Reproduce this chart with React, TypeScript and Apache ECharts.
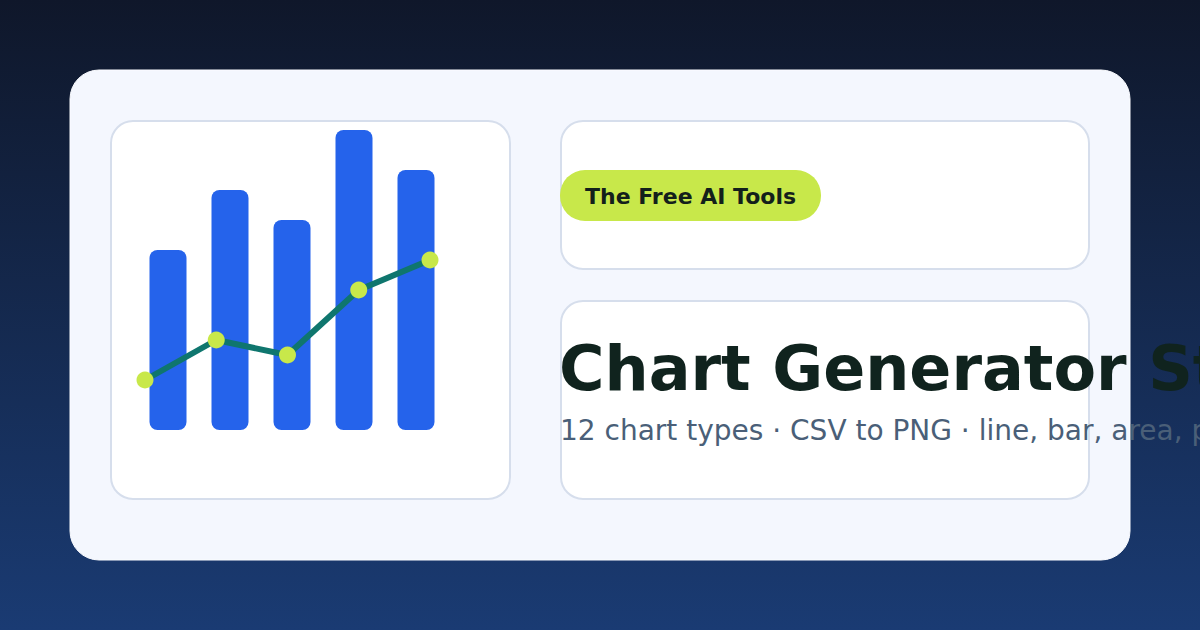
import * as echarts from 'echarts';
import { useEffect, useRef } from 'react';

const categories = ['A', 'B', 'C', 'D', 'E'];
const barValues = [180, 240, 210, 300, 260];
const lineValues = [50, 90, 75, 140, 170];

const badgeText = 'The Free AI Tools';
const titleText = 'Chart Generator Studio';
const subtitleText = '12 chart types · CSV to PNG · line, bar, area, pie, scatter and more';

const FONT = 'DejaVu Sans';

function App() {
  const chartRef = useRef<HTMLDivElement>(null);

  useEffect(() => {
    const myChart = echarts.init(chartRef.current, null, { renderer: 'svg' });

    const box = (x: number, y: number, width: number, height: number) => ({
      type: 'rect',
      z: -9,
      shape: { x, y, width, height, r: 22 },
      style: { fill: '#ffffff', stroke: '#d6deec', lineWidth: 2 },
    });

    const option = {
      animation: false,
      graphic: [
        {
          type: 'rect',
          z: -20,
          shape: { x: 0, y: 0, width: 1200, height: 630 },
          style: {
            fill: new echarts.graphic.LinearGradient(0, 0, 0, 1, [
              { offset: 0, color: '#0f172a' },
              { offset: 1, color: '#1a3b73' },
            ]),
          },
        },
        {
          type: 'rect',
          z: -10,
          shape: { x: 70, y: 70, width: 1060, height: 490, r: 29 },
          style: { fill: '#f4f7fe', stroke: '#fbfcff', lineWidth: 1 },
        },
        box(111, 121, 399, 378),
        box(561, 121, 528, 148),
        box(561, 301, 528, 198),
        {
          type: 'rect',
          z: -8,
          shape: { x: 560, y: 170, width: 261, height: 51, r: 25 },
          style: { fill: '#c8e84a' },
        },
        {
          type: 'text',
          z: 10,
          x: 585,
          y: 196,
          style: {
            text: badgeText,
            fill: '#13201b',
            fontSize: 22,
            fontWeight: 'bold',
            fontFamily: FONT,
            verticalAlign: 'middle',
          },
        },
        {
          type: 'text',
          z: 10,
          x: 559,
          y: 368,
          style: {
            text: titleText,
            fill: '#10231e',
            fontSize: 62,
            fontWeight: 'bold',
            fontFamily: FONT,
            verticalAlign: 'middle',
          },
        },
        {
          type: 'text',
          z: 10,
          x: 560,
          y: 430,
          style: {
            text: subtitleText,
            fill: '#4a5f78',
            fontSize: 28,
            fontFamily: FONT,
            verticalAlign: 'middle',
          },
        },
      ],
      grid: [
        { left: 137, width: 310, top: 130, height: 300 },
        { left: 145, width: 285, top: 130, height: 300 },
      ],
      xAxis: [
        { type: 'category', gridIndex: 0, data: categories, show: false },
        { type: 'category', gridIndex: 1, data: categories, show: false, boundaryGap: false },
      ],
      yAxis: [
        { type: 'value', gridIndex: 0, min: 0, max: 300, show: false },
        { type: 'value', gridIndex: 1, min: 0, max: 300, show: false },
      ],
      series: [
        {
          type: 'bar',
          xAxisIndex: 0,
          yAxisIndex: 0,
          barWidth: 37,
          data: barValues,
          itemStyle: { color: '#2563eb', borderRadius: 8 },
          z: 2,
        },
        {
          type: 'line',
          xAxisIndex: 1,
          yAxisIndex: 1,
          data: lineValues,
          symbol: 'circle',
          symbolSize: 17,
          lineStyle: { color: '#0f766e', width: 6 },
          itemStyle: { color: '#c8e84a' },
          z: 3,
        },
      ],
    };

    myChart.setOption(option);

    return () => {
      myChart.dispose();
    };
  }, []);

  return (
    <div
      ref={chartRef}
      style={{ position: 'absolute', left: 0, top: 0, width: '1200px', height: '630px' }}
    ></div>
  );
}

export default App;
